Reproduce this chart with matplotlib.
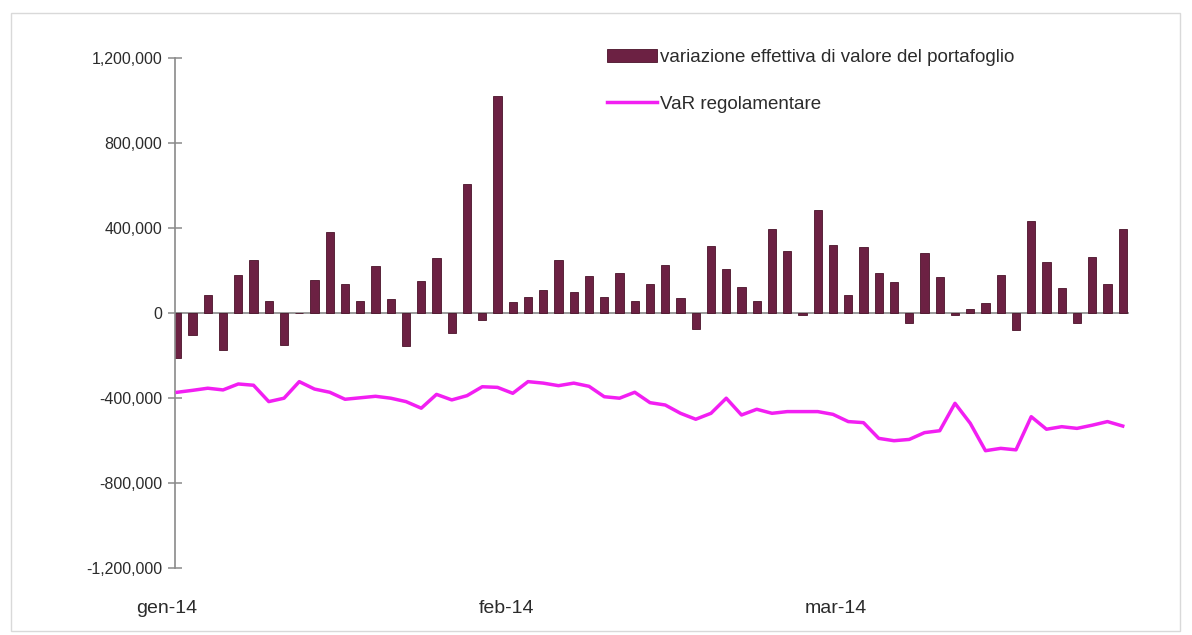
import matplotlib
matplotlib.use("Agg")
import matplotlib.pyplot as plt
from matplotlib.ticker import FuncFormatter
from matplotlib.patches import Rectangle

plt.rcParams['font.family'] = ['Liberation Sans', 'DejaVu Sans']

# Daily change in portfolio value (euro)
variazione = [
    -210000, -105000, 86000, -173000, 177000, 251000, 55000, -149000, 0, 157000,
    381000, 136000, 55000, 223000, 67000, -157000, 152000, 259000, -94000, 607000,
    -35000, 1020000, 50000, 74000, 108000, 251000, 97000, 173000, 74000, 187000,
    58000, 136000, 226000, 69000, -75000, 317000, 207000, 121000, 58000, 395000,
    290000, -10000, 486000, 318000, 86000, 311000, 188000, 146000, -47000, 284000,
    169000, -11000, 20000, 47000, 177000, -82000, 433000, 240000, 118000, -47000,
    264000, 135000, 397000,
]

# Regulatory VaR (euro)
var_reg = [
    -373000, -364000, -354000, -362000, -334000, -340000, -417000, -401000, -323000, -358000,
    -373000, -406000, -399000, -392000, -401000, -417000, -448000, -383000, -409000, -389000,
    -347000, -350000, -378000, -323000, -330000, -342000, -330000, -345000, -394000, -401000,
    -373000, -422000, -433000, -472000, -500000, -472000, -401000, -480000, -453000, -472000,
    -464000, -464000, -464000, -477000, -511000, -516000, -590000, -601000, -595000, -563000,
    -554000, -425000, -519000, -648000, -637000, -644000, -488000, -547000, -535000, -543000,
    -528000, -511000, -532000,
]

month_labels = ["gen-14", "feb-14", "mar-14"]
month_pos = [-0.7, 21.6, 43.2]
y_ticks = [-1200000, -800000, -400000, 0, 400000, 800000, 1200000]

bar_color = "#6c2143"
line_color = "#f21ff2"
axis_color = "#8a8a8a"
text_color = "#2b2b2b"

fig = plt.figure(figsize=(11.92, 6.35), dpi=100)
fig.patch.set_facecolor("white")
fig.patches.append(Rectangle((0.009, 0.006), 0.981, 0.973, transform=fig.transFigure,
                             fill=False, edgecolor="#d9d9d9", linewidth=1.0))

ax = fig.add_axes([0.1468, 0.1055, 0.8002, 0.8032])

x = list(range(len(variazione)))
bars = ax.bar(x, variazione, width=0.55, color=bar_color, edgecolor="#4a1229",
              linewidth=0.6, zorder=2)
line, = ax.plot(x, var_reg, color=line_color, linewidth=2.5, zorder=3)

ax.axhline(0, color=axis_color, linewidth=1.2, zorder=1)

for side in ("top", "right", "bottom"):
    ax.spines[side].set_visible(False)
ax.spines["left"].set_color(axis_color)
ax.spines["left"].set_linewidth(1.2)

ax.set_yticks(y_ticks)
ax.yaxis.set_major_formatter(FuncFormatter(lambda v, p: f"{v:,.0f}"))
ax.tick_params(axis="y", direction="inout", length=10, width=1.1, color=axis_color,
               labelsize=11.5, labelcolor=text_color, pad=4)

ax.set_xticks([])
ax.set_xlim(-0.15, 62.4)
ax.set_ylim(-1200000, 1200000)

# Month labels sit below the plot area
xlab_tr = ax.get_xaxis_transform()
for pos, lab in zip(month_pos, month_labels):
    ax.text(pos, -0.079, lab, transform=xlab_tr, ha="center", va="center",
            fontsize=14, color=text_color, clip_on=False)

leg = ax.legend([bars, line],
                ["variazione effettiva di valore del portafoglio", "VaR regolamentare"],
                loc="upper left", bbox_to_anchor=(0.445, 1.033), frameon=False,
                fontsize=13.5, handlelength=2.67, handleheight=0.75, handletextpad=0.16,
                labelspacing=1.56, borderaxespad=0)
for t in leg.get_texts():
    t.set_color(text_color)

fig.savefig("out.png", dpi=100, facecolor="white")
